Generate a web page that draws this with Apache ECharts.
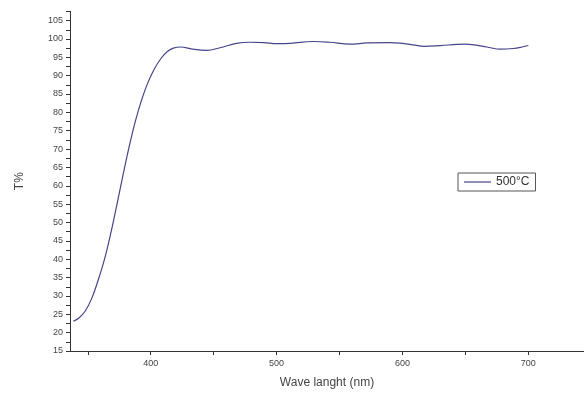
<!DOCTYPE html>
<html>
<head>
<meta charset="utf-8">
<script src="https://cdn.jsdelivr.net/npm/echarts@6/dist/echarts.min.js"></script>
<style>
  html, body { margin: 0; padding: 0; background: #fff; }
  #chart { width: 584px; height: 394px; }
</style>
</head>
<body>
<div id="chart"></div>
<script>
// wavelength (nm) and transmittance (%)
const wavelength = [338.5, 343, 348, 353, 358, 363, 368, 373, 378, 383, 388, 393, 398, 403, 408, 413, 418, 424, 432, 444.5, 455, 468, 479, 490, 500, 511, 529, 542, 558, 572, 590, 600, 610, 617, 630, 643, 650, 657, 667, 678, 688, 695, 700]
const transmittance = [23.1, 24.0, 25.9, 29.2, 34.0, 39.6, 46.6, 54.6, 62.9, 70.8, 77.8, 83.6, 88.3, 91.9, 94.6, 96.5, 97.5, 97.8, 97.3, 96.9, 97.6, 98.8, 99.1, 99.0, 98.7, 98.8, 99.3, 99.1, 98.6, 98.9, 99.0, 98.8, 98.3, 98.0, 98.2, 98.5, 98.6, 98.4, 97.8, 97.2, 97.4, 97.8, 98.2]
const seriesName = '500°C'

const xTicks = [350, 400, 450, 500, 550, 600, 650, 700]
const xLabels = [400, 500, 600, 700]
const yTicks = []
for (let v = 15; v <= 107.5; v += 2.5) yTicks.push(v)
const yLabels = yTicks.filter(v => v % 5 === 0)

const chart = echarts.init(document.getElementById('chart'))
const axisColor = '#333'
const textColor = '#444'
const font = 'Liberation Sans, Arial, sans-serif'

chart.setOption({
  animation: false,
  grid: { left: 70, top: 11.4, right: 0, bottom: 40 },
  legend: {
    left: 458, top: 173,
    orient: 'vertical',
    borderColor: '#555', borderWidth: 1,
    padding: [3, 6, 3, 6],
    icon: 'rect', itemWidth: 27, itemHeight: 1.2, itemGap: 4,
    textStyle: { fontSize: 12, color: '#333', fontFamily: font },
    data: [seriesName]
  },
  xAxis: {
    type: 'value', min: 335.9, max: 744.2,
    name: 'Wave langht (nm)', nameLocation: 'middle', nameGap: 26,
    nameTextStyle: { fontSize: 12, color: textColor, fontFamily: font },
    axisLine: { lineStyle: { color: axisColor, width: 1 } },
    axisTick: { customValues: xTicks, length: 4, lineStyle: { color: axisColor } },
    axisLabel: { customValues: xLabels, fontSize: 9, color: textColor, margin: 8, fontFamily: font },
    splitLine: { show: false }
  },
  yAxis: {
    type: 'value', min: 15, max: 107.5,
    name: 'T%', nameLocation: 'middle', nameGap: 44, nameRotate: 90,
    nameTextStyle: { fontSize: 12, color: textColor, fontFamily: font },
    axisLine: { show: true, lineStyle: { color: axisColor, width: 1 } },
    axisTick: { show: true, customValues: yTicks, length: 4, lineStyle: { color: axisColor } },
    axisLabel: { customValues: yLabels, fontSize: 9, color: textColor, margin: 7, fontFamily: font },
    splitLine: { show: false }
  },
  series: [{
    name: seriesName,
    type: 'line',
    data: wavelength.map((w, i) => [w, transmittance[i]]),
    smooth: 0.4,
    showSymbol: false,
    symbol: 'none',
    lineStyle: { color: '#45458a', width: 1.2 },
    itemStyle: { color: '#45458a' }
  }]
})
</script>
</body>
</html>
